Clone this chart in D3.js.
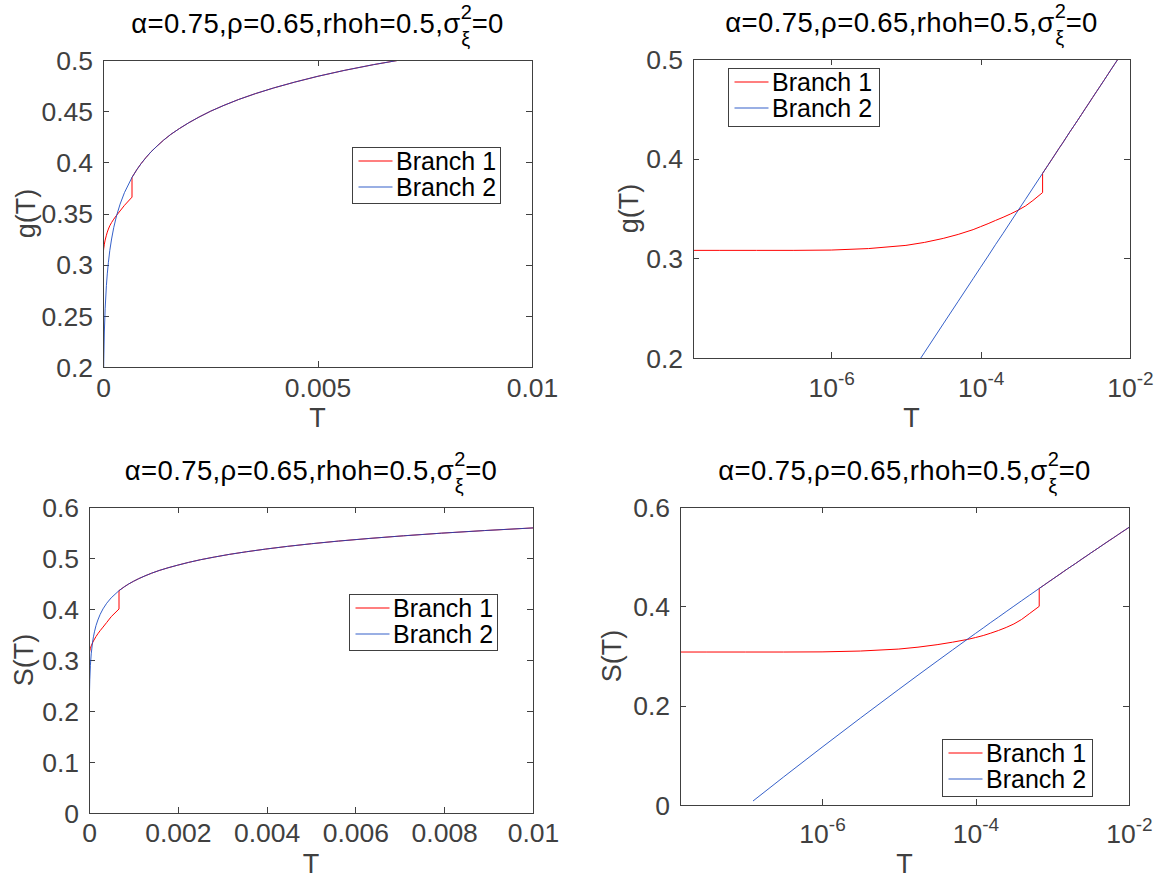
<!DOCTYPE html>
<html>
<head>
<meta charset="utf-8">
<script src="https://cdnjs.cloudflare.com/ajax/libs/d3/7.8.5/d3.min.js"></script>
<style>
  body { margin: 0; background: #fff; }
  svg text { font-family: "Liberation Sans", Arial, Helvetica, sans-serif; }
</style>
</head>
<body>
<div id="chart"></div>
<script>
// ---- data ----
// branch 1: T values (shared by g and S), jump at T = 6.76e-4
var tBranch1 = [1.41e-8, 3.16e-8, 1e-7, 3.16e-7, 1e-6, 3.16e-6, 1e-5, 1.78e-5, 3.16e-5, 5.01e-5,
                7.94e-5, 1e-4, 1.26e-4, 1.58e-4, 2e-4, 2.51e-4, 3.16e-4, 3.98e-4, 5.01e-4, 6.76e-4,
                6.76e-4, 7.94e-4, 8.91e-4, 1e-3, 1.12e-3, 1.26e-3, 1.41e-3, 1.58e-3, 1.78e-3, 2e-3,
                2.24e-3, 2.51e-3, 2.82e-3, 3.16e-3, 3.55e-3, 3.98e-3, 4.47e-3, 5.01e-3, 5.62e-3, 6.31e-3,
                7.08e-3, 7.94e-3, 8.91e-3, 1e-2];
var gBranch1 = [0.3080, 0.3080, 0.3080, 0.3080, 0.3083, 0.3098, 0.3130, 0.3160, 0.3200, 0.3240,
                0.3288, 0.3318, 0.3348, 0.3380, 0.3412, 0.3445, 0.3482, 0.3525, 0.3580, 0.3660,
                0.3853, 0.3932, 0.3989, 0.4046, 0.4103, 0.4159, 0.4216, 0.4273, 0.4330, 0.4387,
                0.4443, 0.4500, 0.4557, 0.4614, 0.4671, 0.4727, 0.4784, 0.4841, 0.4898, 0.4955,
                0.5011, 0.5068, 0.5125, 0.5182];
var sBranch1 = [0.3080, 0.3080, 0.3080, 0.3080, 0.3083, 0.3100, 0.3140, 0.3178, 0.3228, 0.3278,
                0.3335, 0.3372, 0.3412, 0.3460, 0.3515, 0.3575, 0.3645, 0.3735, 0.3850, 0.4000,
                0.4360, 0.4435, 0.4489, 0.4542, 0.4595, 0.4649, 0.4702, 0.4755, 0.4808, 0.4860,
                0.4913, 0.4966, 0.5018, 0.5071, 0.5123, 0.5175, 0.5228, 0.5280, 0.5332, 0.5383,
                0.5435, 0.5487, 0.5538, 0.5590];

// branch 2
var tBranch2 = [1.26e-7, 3.16e-7, 1e-6, 3.16e-6, 1e-5, 1.78e-5, 3.16e-5, 5.01e-5, 7.94e-5, 1e-4,
                1.26e-4, 1.58e-4, 2e-4, 2.51e-4, 3.16e-4, 3.98e-4, 5.01e-4, 6.76e-4,
                7.94e-4, 8.91e-4, 1e-3, 1.12e-3, 1.26e-3, 1.41e-3, 1.58e-3, 1.78e-3, 2e-3,
                2.24e-3, 2.51e-3, 2.82e-3, 3.16e-3, 3.55e-3, 3.98e-3, 4.47e-3, 5.01e-3, 5.62e-3, 6.31e-3,
                7.08e-3, 7.94e-3, 8.91e-3, 1e-2];
var gBranch2 = [-0.0385, 0.0070, 0.0638, 0.1206, 0.1774, 0.2058, 0.2342, 0.2569, 0.2796, 0.2910,
                0.3023, 0.3137, 0.3251, 0.3364, 0.3478, 0.3591, 0.3705, 0.3853,
                0.3932, 0.3989, 0.4046, 0.4103, 0.4159, 0.4216, 0.4273, 0.4330, 0.4387,
                0.4443, 0.4500, 0.4557, 0.4614, 0.4671, 0.4727, 0.4784, 0.4841, 0.4898, 0.4955,
                0.5011, 0.5068, 0.5125, 0.5182];
var sBranch2 = [0.0080, 0.0565, 0.1163, 0.1750, 0.2328, 0.2614, 0.2896, 0.3121, 0.3344, 0.3455,
                0.3565, 0.3675, 0.3785, 0.3894, 0.4003, 0.4112, 0.4220, 0.4360,
                0.4435, 0.4489, 0.4542, 0.4595, 0.4649, 0.4702, 0.4755, 0.4808, 0.4860,
                0.4913, 0.4966, 0.5018, 0.5071, 0.5123, 0.5175, 0.5228, 0.5280, 0.5332, 0.5383,
                0.5435, 0.5487, 0.5538, 0.5590];

var seriesNames = ["Branch 1", "Branch 2"];

// ticks
var tTicksG = [0, 0.005, 0.01];
var tTicksS = [0, 0.002, 0.004, 0.006, 0.008, 0.01];
var tTicksLog = [1e-6, 1e-4, 1e-2];
var gTicksLin = [0.2, 0.25, 0.3, 0.35, 0.4, 0.45, 0.5];
var gTicksLog = [0.2, 0.3, 0.4, 0.5];
var sTicksLin = [0, 0.1, 0.2, 0.3, 0.4, 0.5, 0.6];
var sTicksLog = [0, 0.2, 0.4, 0.6];

var titleMain = "\u03b1=0.75,\u03c1=0.65,rhoh=0.5,\u03c3";
var titleSup = "2", titleSub = "\u03be", titleEnd = "=0";

// ---- drawing ----
var W = 1154, H = 882;
var red = "#ff0000", blue = "#1446c0", axisCol = "#404040";

var svg = d3.select("#chart").append("svg")
    .attr("width", W)
    .attr("height", H);
svg.append("rect").attr("width", W).attr("height", H).attr("fill", "#fff");

var panels = [
  {l: 103, r: 532, t: 60, b: 367, log: false, xTicks: tTicksG, yTicks: gTicksLin, yDom: [0.2, 0.5],
   v1: gBranch1, v2: gBranch2, yLab: "g(T)", leg: {x: 352, y: 147, w: 148, h: 56},
   titleY: 33, xTickY: 397, xLabY: 427, yLabX: 35},
  {l: 693, r: 1130, t: 59, b: 358, log: true, xTicks: tTicksLog, yTicks: gTicksLog, yDom: [0.2, 0.5],
   v1: gBranch1, v2: gBranch2, yLab: "g(T)", leg: {x: 728, y: 68, w: 151, h: 58},
   titleY: 32, xTickY: 397, xLabY: 427, yLabX: 638},
  {l: 89, r: 533, t: 507, b: 813, log: false, xTicks: tTicksS, yTicks: sTicksLin, yDom: [0, 0.6],
   v1: sBranch1, v2: sBranch2, yLab: "S(T)", leg: {x: 349, y: 594, w: 148, h: 56},
   titleY: 480, xTickY: 842, xLabY: 873, yLabX: 33},
  {l: 680, r: 1129, t: 507, b: 805, log: true, xTicks: tTicksLog, yTicks: sTicksLog, yDom: [0, 0.6],
   v1: sBranch1, v2: sBranch2, yLab: "S(T)", leg: {x: 942, y: 739, w: 150, h: 57},
   titleY: 480, xTickY: 843, xLabY: 873, yLabX: 621}
];

panels.forEach(function(p, i) {
  var x = p.log
      ? d3.scaleLog().domain(d3.extent(tBranch1)).range([p.l, p.r])
      : d3.scaleLinear().domain([0, 0.01]).range([p.l, p.r]);
  var y = d3.scaleLinear().domain(p.yDom).range([p.b, p.t]);
  var g = svg.append("g");

  // clip
  var cid = "clip" + i;
  svg.append("clipPath").attr("id", cid).append("rect")
      .attr("x", p.l).attr("y", p.t).attr("width", p.r - p.l).attr("height", p.b - p.t);

  // axes (ticks inside, box on)
  var fmtY = function(d) { return String(+d.toFixed(2)); };
  var xb = g.append("g").attr("transform", "translate(0," + p.b + ")")
      .call(d3.axisBottom(x).tickValues(p.xTicks).tickSizeInner(-6).tickSizeOuter(0)
            .tickFormat(function(d) { return p.log ? "10" : String(+d.toFixed(3)); }));
  var xt = g.append("g").attr("transform", "translate(0," + p.t + ")")
      .call(d3.axisTop(x).tickValues(p.xTicks).tickSizeInner(-6).tickSizeOuter(0).tickFormat(""));
  var yl = g.append("g").attr("transform", "translate(" + p.l + ",0)")
      .call(d3.axisLeft(y).tickValues(p.yTicks).tickSizeInner(-6).tickSizeOuter(0).tickFormat(fmtY));
  var yr = g.append("g").attr("transform", "translate(" + p.r + ",0)")
      .call(d3.axisRight(y).tickValues(p.yTicks).tickSizeInner(-6).tickSizeOuter(0).tickFormat(""));

  [xb, xt, yl, yr].forEach(function(a) {
    a.select(".domain").remove();
    a.selectAll("line").attr("stroke", axisCol).attr("shape-rendering", "crispEdges");
  });

  xb.selectAll("text")
      .attr("y", p.xTickY - p.b).attr("dy", null)
      .attr("font-size", 26.5).attr("fill", axisCol).attr("font-family", null);
  if (p.log) {
    xb.selectAll("text").append("tspan")
        .attr("dy", -12).attr("font-size", 19)
        .text(function(d) { return "-" + Math.round(-Math.log10(d)); });
  }
  yl.selectAll("text")
      .attr("x", -10).attr("dy", "0.35em")
      .attr("font-size", 26.5).attr("fill", axisCol).attr("font-family", null);

  // lines
  var line = d3.line()
      .x(function(d) { return x(d[0]); })
      .y(function(d) { return y(d[1]); });
  var lines = g.append("g").attr("clip-path", "url(#" + cid + ")");
  lines.append("path")
      .datum(d3.zip(tBranch1, p.v1))
      .attr("fill", "none").attr("stroke", red).attr("stroke-width", 1)
      .attr("d", line);
  lines.append("path")
      .datum(d3.zip(tBranch2, p.v2))
      .attr("fill", "none").attr("stroke", blue).attr("stroke-width", 1)
      .attr("stroke-opacity", 0.86)
      .attr("d", line);

  // box
  g.append("rect")
      .attr("x", p.l).attr("y", p.t).attr("width", p.r - p.l).attr("height", p.b - p.t)
      .attr("fill", "none").attr("stroke", axisCol).attr("shape-rendering", "crispEdges");

  // title
  var cx = (p.l + p.r) / 2;
  var tt = g.append("text").attr("x", cx).attr("y", p.titleY)
      .attr("text-anchor", "middle").attr("font-size", 27.5).attr("fill", "#000")
      .attr("letter-spacing", 0.4);
  tt.append("tspan").text(titleMain);
  tt.append("tspan").attr("dy", -14.5).attr("font-size", 20).text(titleSup);
  tt.append("tspan").attr("dx", -11).attr("dy", 27.5).attr("font-size", 20).text(titleSub);
  tt.append("tspan").attr("dy", -13).attr("dx", 1).text(titleEnd);

  // axis labels
  g.append("text").attr("x", cx).attr("y", p.xLabY)
      .attr("text-anchor", "middle").attr("font-size", 27).attr("fill", axisCol)
      .text("T");
  g.append("text")
      .attr("transform", "translate(" + p.yLabX + "," + ((p.t + p.b) / 2) + ") rotate(-90)")
      .attr("text-anchor", "middle").attr("font-size", 27).attr("fill", axisCol)
      .text(p.yLab);

  // legend
  var lg = g.append("g").attr("transform", "translate(" + p.leg.x + "," + p.leg.y + ")");
  lg.append("rect").attr("width", p.leg.w).attr("height", p.leg.h)
      .attr("fill", "#fff").attr("stroke", axisCol).attr("shape-rendering", "crispEdges");
  [red, blue].forEach(function(c, k) {
    var ry = 14 + k * 26;
    lg.append("line").attr("x1", 6.5).attr("x2", 40.5).attr("y1", ry).attr("y2", ry)
        .attr("stroke", c).attr("stroke-width", 1.2).attr("stroke-opacity", k ? 0.86 : 1);
    lg.append("text").attr("x", 44).attr("y", ry + 8.5)
        .attr("font-size", 25).attr("fill", "#000")
        .text(seriesNames[k]);
  });
});
</script>
</body>
</html>
